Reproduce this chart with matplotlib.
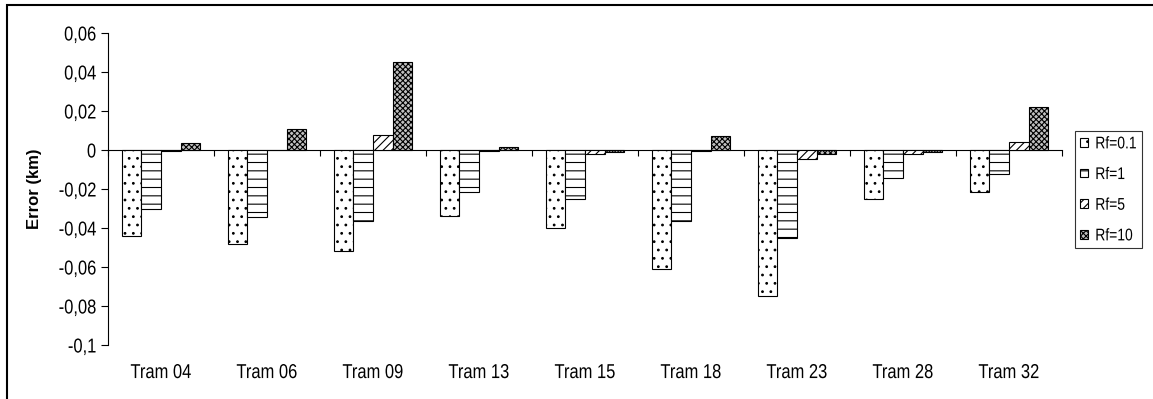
import matplotlib
matplotlib.use("Agg")
import matplotlib.pyplot as plt
import matplotlib.patches as mpatches
from matplotlib.patheffects import AbstractPathEffect
from matplotlib.transforms import Affine2D
import numpy as np

categories = ["Tram 04", "Tram 06", "Tram 09", "Tram 13", "Tram 15",
              "Tram 18", "Tram 23", "Tram 28", "Tram 32"]
series_names = ["Rf=0.1", "Rf=1", "Rf=5", "Rf=10"]
rf_01 = [-0.044, -0.048, -0.052, -0.034, -0.040, -0.061, -0.075, -0.025, -0.0215]
rf_1 = [-0.030, -0.0345, -0.0365, -0.0215, -0.025, -0.0365, -0.045, -0.0145, -0.0125]
rf_5 = [-0.0005, 0.0, 0.0075, -0.0005, -0.0022, -0.0005, -0.0048, -0.0022, 0.0043]
rf_10 = [0.0037, 0.0106, 0.045, 0.0015, -0.001, 0.0072, -0.0022, -0.001, 0.0222]
y_ticks = [-0.1, -0.08, -0.06, -0.04, -0.02, 0, 0.02, 0.04, 0.06]
y_tick_labels = ["-0,1", "-0,08", "-0,06", "-0,04", "-0,02", "0", "0,02", "0,04", "0,06"]

plt.rcParams["font.family"] = ["Liberation Sans", "DejaVu Sans"]
plt.rcParams["hatch.linewidth"] = 0.8


class Reshaped(AbstractPathEffect):
    """Draw text glyphs scaled in x and y around an anchor point."""

    def __init__(self, sx=1.0, sy=1.0, anchor="center"):
        super().__init__()
        self.sx = sx
        self.sy = sy
        self.anchor = anchor

    def draw_path(self, renderer, gc, tpath, affine, rgbFace=None):
        v = tpath.vertices
        right = v[:, 0].max() if len(v) else 0.0
        top = v[:, 1].max() if len(v) else 0.0
        x0 = {"left": 0.0, "center": right / 2, "right": right}[self.anchor]
        y0 = top / 2
        t = (Affine2D().translate(-x0, -y0).scale(self.sx, self.sy)
             .translate(x0, y0))
        renderer.draw_path(gc, tpath, t + affine, rgbFace)


W, H = 1153, 399
fig = plt.figure(figsize=(W / 100, H / 100), dpi=100)
ax = fig.add_axes([108 / W, 54 / H, (1062 - 108) / W, (345 - 33) / H])

styles = [
    dict(facecolor="white", hatch=".."),
    dict(facecolor="white", hatch="--"),
    dict(facecolor="white", hatch="////"),
    dict(facecolor="#c0c0c0", hatch="xxxxxx"),
]
values = [rf_01, rf_1, rf_5, rf_10]

x = np.arange(len(categories))
group = 0.742
bw = group / len(values)
handles = []
for i, (vals, st, name) in enumerate(zip(values, styles, series_names)):
    offs = -group / 2 + bw * (i + 0.5)
    bars = ax.bar(x + offs, vals, width=bw, edgecolor="black",
                  linewidth=0.8, label=name, **st)
    handles.append(bars)

ax.set_xlim(-0.5, len(categories) - 0.5)
ax.set_ylim(-0.1, 0.06)
ax.set_yticks(y_ticks)
ax.set_yticklabels(y_tick_labels)
ax.tick_params(axis="y", direction="out", length=5, width=0.8, pad=3.5,
               labelsize=14.5)

ax.set_xticks(x)
ax.set_xticklabels(categories)
ax.tick_params(axis="x", length=0, pad=13, labelsize=14.5)

for lab in ax.get_xticklabels():
    lab.set_path_effects([Reshaped(sx=0.82, anchor="center")])
for lab in ax.get_yticklabels():
    lab.set_path_effects([Reshaped(sx=0.82, anchor="right")])

for side in ("top", "right", "bottom"):
    ax.spines[side].set_visible(False)
ax.spines["left"].set_linewidth(0.8)

# category axis drawn along the zero line, ticks between groups
zero_axis = ax.secondary_xaxis(0, transform=ax.transData)
zero_axis.set_xticks(np.arange(len(categories) + 1) - 0.5)
zero_axis.set_xticklabels([])
zero_axis.tick_params(direction="out", length=4, width=0.8)
zero_axis.spines["bottom"].set_linewidth(0.8)

ax.set_ylabel("Error (km)", fontsize=12, fontweight="bold")
ax.yaxis.set_label_coords((42 - 108) / 954, 0.5)

leg = fig.legend(handles=handles, labels=series_names, loc="upper left",
                 bbox_to_anchor=(1075 / W, 1 - 131 / H),
                 bbox_transform=fig.transFigure, borderaxespad=0,
                 fancybox=False, shadow=False, frameon=True,
                 fontsize=10, handlelength=0.58, handleheight=0.58,
                 handletextpad=0.5, labelspacing=1.2, borderpad=0.38)
leg.get_frame().set_edgecolor("black")
leg.get_frame().set_linewidth(0.8)
for txt in leg.get_texts():
    txt.set_path_effects([Reshaped(sy=1.22, anchor="left")])

# outer chart frame
fig.patches.append(mpatches.Rectangle((7 / W, -0.2), 1.2, 1.2 - 5 / H,
                                      transform=fig.transFigure,
                                      fill=False, edgecolor="black",
                                      linewidth=1.5))

fig.savefig("out.png", dpi=100)
